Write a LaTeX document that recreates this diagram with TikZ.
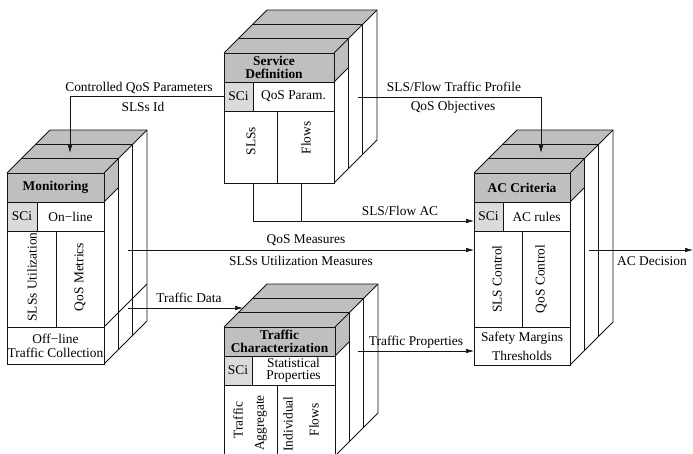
\documentclass[tikz,border=0pt]{standalone}
\usepackage{fontspec}
\setmainfont{Liberation Serif}
\usetikzlibrary{arrows.meta}
\definecolor{hdrgray}{gray}{0.75}
\definecolor{scigray}{gray}{0.86}
\definecolor{ink}{gray}{0.08}
\def\dd{14.33}
\newcommand\stackbox[5]{%
  \fill[hdrgray] (#1,#3) -- ({#1+3*\dd},{#3-3*\dd}) -- ({#2+3*\dd},{#3-3*\dd}) -- (#2,#3) -- cycle;
  \fill[hdrgray] (#2,#3) -- ({#2+\dd},{#3-\dd}) -- ({#2+\dd},{#4-\dd}) -- (#2,#4) -- cycle;
  \draw[blk] (#1,#3) -- ({#1+3*\dd},{#3-3*\dd}) -- ({#2+3*\dd},{#3-3*\dd}) -- ({#2+3*\dd},{#5-3*\dd}) -- (#2,#5);
  \draw[blk] ({#1+\dd},{#3-\dd}) -- ({#2+\dd},{#3-\dd}) -- ({#2+\dd},{#5-\dd});
  \draw[blk] ({#1+2*\dd},{#3-2*\dd}) -- ({#2+2*\dd},{#3-2*\dd}) -- ({#2+2*\dd},{#5-2*\dd});
  \draw[blk] (#2,#3) -- ({#2+3*\dd},{#3-3*\dd});
  \draw[blk] (#2,#4) -- ({#2+\dd},{#4-\dd});
}
\begin{document}
\begin{tikzpicture}[x=1pt,y=-1pt,
  font=\fontsize{13.4}{15}\selectfont,
  blk/.style={draw=ink,line width=0.75pt,line join=round},
  cell/.style={draw=ink,line width=0.75pt,fill=white,inner sep=0pt,outer sep=0pt,anchor=north west,align=center},
  hdr/.style={cell,fill=hdrgray,font=\fontsize{13.4}{13}\selectfont\bfseries},
  sci/.style={cell,fill=scigray},
  rot/.style={rotate=90,inner sep=0pt},
  lbl/.style={inner sep=0pt},
  conn/.style={draw=ink,line width=0.6pt},
  arr/.style={conn,-{Latex[length=8pt,width=4.5pt]}}]
\useasboundingbox (0,0) rectangle (693,454);

% stacks (3 slabs each)
\stackbox{224}{334}{53}{82}{183}
\stackbox{7}{104}{173}{202}{364}
\stackbox{474}{570}{173}{202}{365}
\stackbox{224}{335}{327}{356}{456}
\draw[blk] (104,327) -- ({104+3*\dd},{327-3*\dd});

% Service Definition
\node[hdr,minimum width=110pt,minimum height=29pt] (sdh) at (224,53) {};
\node[lbl,align=center,font=\fontsize{13.4}{13}\selectfont\bfseries] (sdht) at (274,67.5) {Service\\Definition};
\node[sci,minimum width=29pt,minimum height=29pt] (sdsci) at (224,82) {SCi};
\node[cell,minimum width=81pt,minimum height=29pt] (sdqp) at (253,82) {QoS Param.};
\node[cell,minimum width=53pt,minimum height=72pt] (sdc1) at (224,111) {};
\node[cell,minimum width=57pt,minimum height=72pt] (sdc2) at (277,111) {};
\node[rot] (sdc1t) at (251,141) {SLSs};
\node[rot] (sdc2t) at (306,138) {Flows};

% Monitoring
\node[hdr,minimum width=97pt,minimum height=29pt] (moh) at (7,173) {Monitoring};
\node[sci,minimum width=30pt,minimum height=29pt] (mosci) at (7,202) {SCi};
\node[cell,minimum width=67pt,minimum height=29pt] (moon) at (37,202) {On−line};
\node[cell,minimum width=49pt,minimum height=96pt] (moc1) at (7,231) {};
\node[cell,minimum width=48pt,minimum height=96pt] (moc2) at (56,231) {};
\node[cell,minimum width=97pt,minimum height=37pt,font=\fontsize{13.4}{14}\selectfont] (mob) at (7,327) {Off−line\\Traffic Collection};
\node[rot] (moc1t) at (32,277) {SLSs Utilization};
\node[rot] (moc2t) at (80,277) {QoS Metrics};

% AC Criteria
\node[hdr,minimum width=96pt,minimum height=29pt] (ach) at (474,173) {AC Criteria};
\node[sci,minimum width=29pt,minimum height=29pt] (acsci) at (474,202) {SCi};
\node[cell,minimum width=67pt,minimum height=29pt] (acr) at (503,202) {AC rules};
\node[cell,minimum width=48pt,minimum height=96pt] (acc1) at (474,231) {};
\node[cell,minimum width=48pt,minimum height=96pt] (acc2) at (522,231) {};
\node[cell,minimum width=96pt,minimum height=38pt,font=\fontsize{13.4}{19}\selectfont] (acb) at (474,327) {Safety Margins\\Thresholds};
\node[rot] (acc1t) at (497,279) {SLS Control};
\node[rot] (acc2t) at (541,279) {QoS Control};

% Traffic Characterization
\node[hdr,minimum width=111pt,minimum height=29pt] (tch) at (224,327) {Traffic\\Characterization};
\node[sci,minimum width=28pt,minimum height=29pt] (tcsci) at (224,356) {SCi};
\node[cell,minimum width=83pt,minimum height=29pt,font=\fontsize{13.4}{12}\selectfont] (tcst) at (252,356) {Statistical\\Properties};
\node[cell,minimum width=53pt,minimum height=71pt] (tcc1) at (224,385) {};
\node[cell,minimum width=58pt,minimum height=71pt] (tcc2) at (277,385) {};
\node[rot] (tcc1a) at (238,420) {Traffic};
\node[rot] (tcc1b) at (261,423) {Aggregate};
\node[rot] (tcc2a) at (288,424) {Individual};
\node[rot] (tcc2b) at (314,420) {Flows};

% connector end points
\coordinate (moin) at (70,153);
\coordinate (sdout) at (358,97);
\coordinate (acin) at (541,153);
\coordinate (sdA) at (253,183);
\coordinate (sdB) at (301,183);
\coordinate (flowac) at (253,221);
\coordinate (moout1) at (128,250);
\coordinate (moout2) at (128,308);
\coordinate (tcin) at (243,308);
\coordinate (tcout) at (358,351);
\coordinate (acout) at (589,250);
\coordinate (decend) at (693,250);

% connectors
\draw[arr] (sdsci.west) -| (moin);
\draw[arr] (sdout) -| (acin);
\draw[conn] (sdB) -- (sdB |- flowac);
\draw[arr] (sdA) -- (flowac) -- (flowac -| acsci.west);
\draw[arr] (moout1) -- (moout1 -| acc1.west);
\draw[arr] (moout2) -- (tcin);
\draw[arr] (tcout) -- (tcout -| acb.west);
\draw[arr] (acout) -- (decend);

% connector labels
\node[lbl] (l1a) at (139,88) {Controlled QoS Parameters};
\node[lbl] (l1b) at (143,107) {SLSs Id};
\node[lbl] (l2a) at (454,87) {SLS/Flow Traffic Profile};
\node[lbl] (l2b) at (453,107) {QoS Objectives};
\node[lbl] (l3) at (400,211) {SLS/Flow AC};
\node[lbl] (l4a) at (306,240) {QoS Measures};
\node[lbl] (l4b) at (301,261) {SLSs Utilization Measures};
\node[lbl] (l5) at (189,298) {Traffic Data};
\node[lbl] (l6) at (416,342) {Traffic Properties};
\node[lbl] (l7) at (652,261) {AC Decision};
\end{tikzpicture}
\end{document}
